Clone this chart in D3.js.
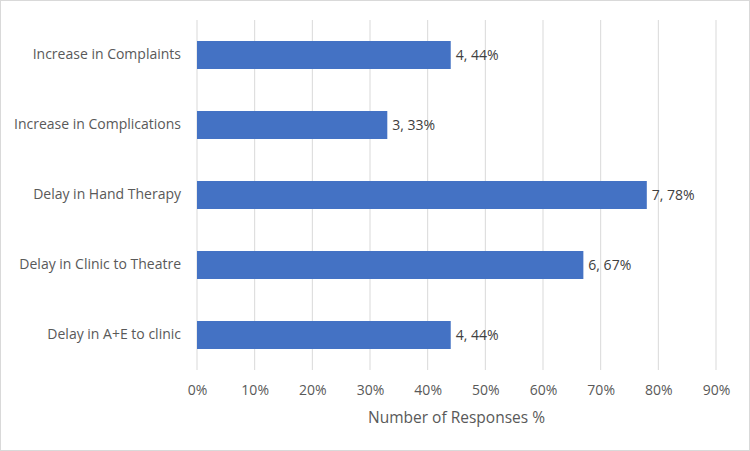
<!DOCTYPE html>
<html><head><meta charset="utf-8">
<script src="https://cdn.jsdelivr.net/npm/d3@7"></script>
<style>body{margin:0;background:#fff}svg{display:block}</style>
</head><body>
<script>
const categories = ["Increase in Complaints","Increase in Complications","Delay in Hand Therapy","Delay in Clinic to Theatre","Delay in A+E to clinic"];
const percents = [44, 33, 78, 67, 44];
const counts = [4, 3, 7, 6, 4];
const xTicks = [0,10,20,30,40,50,60,70,80,90];
const xTitle = "Number of Responses %";

const W = 750, H = 451;
const font = "'Open Sans', sans-serif";
const svg = d3.select("body").append("svg").attr("width", W).attr("height", H);
svg.append("rect").attr("x",0.5).attr("y",0.5).attr("width",W-1).attr("height",H-1)
  .attr("fill","#fff").attr("stroke","#d9d9d9");

const x = d3.scaleLinear().domain([0,90]).range([197,716]);
const y = d3.scaleBand().domain(categories).range([20,370]).paddingInner(0.6).paddingOuter(0.3);

svg.append("g").selectAll("line").data(xTicks).join("line")
  .attr("x1",d=>x(d)).attr("x2",d=>x(d)).attr("y1",20).attr("y2",370)
  .attr("stroke","#d9d9d9").attr("stroke-width",1);

const xAxis = svg.append("g").attr("transform","translate(0,370)")
  .call(d3.axisBottom(x).tickValues(xTicks).tickFormat(d=>d+"%").tickSize(0).tickPadding(15));
xAxis.select(".domain").remove();
xAxis.selectAll("text").attr("fill","#595959").style("font-family",font).style("font-size","14px");

const yAxis = svg.append("g").attr("transform","translate(197,0)")
  .call(d3.axisLeft(y).tickSize(0).tickPadding(16));
yAxis.select(".domain").remove();
yAxis.selectAll("text").attr("fill","#595959").style("font-family",font).style("font-size","14px");

const data = categories.map((c,i)=>({c, p:percents[i], n:counts[i]}));
svg.append("g").selectAll("rect").data(data).join("rect")
  .attr("x",x(0)).attr("y",d=>y(d.c)).attr("width",d=>x(d.p)-x(0)).attr("height",y.bandwidth())
  .attr("fill","#4472c4");

svg.append("g").selectAll("text").data(data).join("text")
  .attr("x",d=>x(d.p)+5).attr("y",d=>y(d.c)+y.bandwidth()/2).attr("dy","0.35em")
  .attr("fill","#404040").style("font-family",font).style("font-size","14px")
  .text(d=>d.n+", "+d.p+"%");

svg.append("text").attr("x",(x(0)+x(90))/2).attr("y",418).attr("dy","0.35em")
  .attr("text-anchor","middle").attr("fill","#595959").style("font-family",font).style("font-size","15.5px")
  .text(xTitle);
</script>
</body></html>
